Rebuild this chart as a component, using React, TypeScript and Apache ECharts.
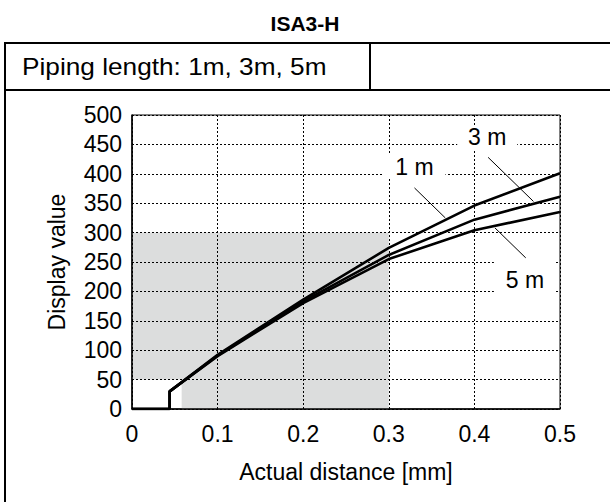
import { useEffect, useRef } from 'react';
import * as echarts from 'echarts';

const FONT = '"Liberation Sans", Arial, sans-serif';

// Data
const distance = [0, 0.044, 0.044, 0.1, 0.2, 0.3, 0.4, 0.5];
const display1m = [0, 0, 30, 92, 186, 274, 346, 401];
const display3m = [0, 0, 30, 91, 183, 262, 322, 361];
const display5m = [0, 0, 30, 90, 180, 255, 304, 335];
const seriesNames = ['1 m', '3 m', '5 m'];

// Shaded area (x range, y range) in data units
const shadeTop = [0, 50, 0.3, 300];
const shadeBottom = [0.058, 0, 0.3, 50];

// Curve labels [x, y] and leader lines [[x1, y1], [x2, y2]] in data units
const labelCoords = [
  [0.33, 412],
  [0.415, 462],
  [0.459, 220],
];
const leaderLines = [
  [[0.33, 376], [0.366, 325]],
  [[0.416, 428], [0.469, 353]],
  [[0.424, 308], [0.46, 257]],
];
const labelBoxSizes = [
  [62, 24],
  [60, 24],
  [62, 42],
];

const xTickFmt = (v: number) => String(Number(v.toFixed(1)));

function zip(xs: number[], ys: number[]) {
  return xs.map((x, i) => [x, ys[i]]);
}

export default function App() {
  const ref = useRef<HTMLDivElement>(null);
  useEffect(() => {
    document.body.style.margin = '0';
    const chart = echarts.init(ref.current!, null, { renderer: 'svg' });
    const values = [display1m, display3m, display5m];
    const series: any[] = values.map((vals, i) => ({
      type: 'line',
      name: seriesNames[i],
      data: zip(distance, vals),
      showSymbol: false,
      symbol: 'none',
      z: 2,
      lineStyle: { color: '#000', width: 2.6 },
      itemStyle: { color: '#000' },
      markPoint: {
        silent: true,
        symbol: 'rect',
        symbolSize: labelBoxSizes[i],
        itemStyle: { color: '#fff' },
        label: {
          show: true,
          position: 'inside',
          color: '#000',
          fontSize: 23,
          fontFamily: FONT,
          formatter: seriesNames[i],
        },
        data: [{ name: seriesNames[i], coord: labelCoords[i] }],
      },
      markLine: {
        silent: true,
        symbol: ['none', 'none'],
        lineStyle: { color: '#000', width: 1, type: 'solid' },
        label: { show: false },
        data: [[{ coord: leaderLines[i][0] }, { coord: leaderLines[i][1] }]],
      },
      ...(i === 0
        ? {
            markArea: {
              silent: true,
              itemStyle: { color: '#dcdddd' },
              data: [
                [{ coord: [shadeTop[0], shadeTop[1]] }, { coord: [shadeTop[2], shadeTop[3]] }],
                [{ coord: [shadeBottom[0], shadeBottom[1]] }, { coord: [shadeBottom[2], shadeBottom[3]] }],
              ],
            },
          }
        : {}),
    }));

    chart.setOption({
      animation: false,
      backgroundColor: '#fff',
      title: {
        text: 'ISA3-H',
        left: 'center',
        top: 8,
        textStyle: { fontSize: 21, fontWeight: 'bold', color: '#000', fontFamily: FONT },
      },
      grid: {
        left: 132,
        right: 50,
        top: 115,
        height: 294,
        show: true,
        borderColor: '#000',
        borderWidth: 1,
      },
      xAxis: {
        type: 'value',
        min: 0,
        max: 0.5,
        interval: 0.1,
        z: 3,
        axisLine: { show: true, onZero: false, lineStyle: { color: '#000', width: 1.5 } },
        axisTick: { show: false },
        axisLabel: { color: '#000', fontSize: 23, fontFamily: FONT, margin: 13, formatter: xTickFmt },
        splitLine: { show: true, lineStyle: { color: '#000', width: 1, type: [2, 2] } },
        name: 'Actual distance [mm]',
        nameLocation: 'middle',
        nameGap: 51,
        nameTextStyle: { color: '#000', fontSize: 23, fontFamily: FONT },
      },
      yAxis: {
        type: 'value',
        min: 0,
        max: 500,
        interval: 50,
        z: 3,
        axisLine: { show: true, onZero: false, lineStyle: { color: '#000', width: 1.5 } },
        axisTick: { show: false },
        axisLabel: { color: '#000', fontSize: 23, fontFamily: FONT, margin: 10 },
        splitLine: { show: true, lineStyle: { color: '#000', width: 1, type: [2, 2] } },
        name: 'Display value',
        nameLocation: 'middle',
        nameRotate: 90,
        nameGap: 64,
        nameTextStyle: { color: '#000', fontSize: 23, fontFamily: FONT },
      },
      graphic: [
        { type: 'line', shape: { x1: 4, y1: 43, x2: 610, y2: 43 }, style: { stroke: '#000', lineWidth: 2 } },
        { type: 'line', shape: { x1: 4, y1: 90, x2: 610, y2: 90 }, style: { stroke: '#000', lineWidth: 2 } },
        { type: 'line', shape: { x1: 5, y1: 42, x2: 5, y2: 502 }, style: { stroke: '#000', lineWidth: 2 } },
        { type: 'line', shape: { x1: 370, y1: 43, x2: 370, y2: 90 }, style: { stroke: '#000', lineWidth: 2 } },
        {
          type: 'text',
          x: 22,
          y: 67,
          scaleX: 1.14,
          style: {
            text: 'Piping length: 1m, 3m, 5m',
            fontSize: 23,
            fontFamily: FONT,
            fill: '#000',
            verticalAlign: 'middle',
          },
        },
      ],
      series,
    });
    return () => chart.dispose();
  }, []);
  return <div ref={ref} style={{ width: 610, height: 502 }} />;
}
